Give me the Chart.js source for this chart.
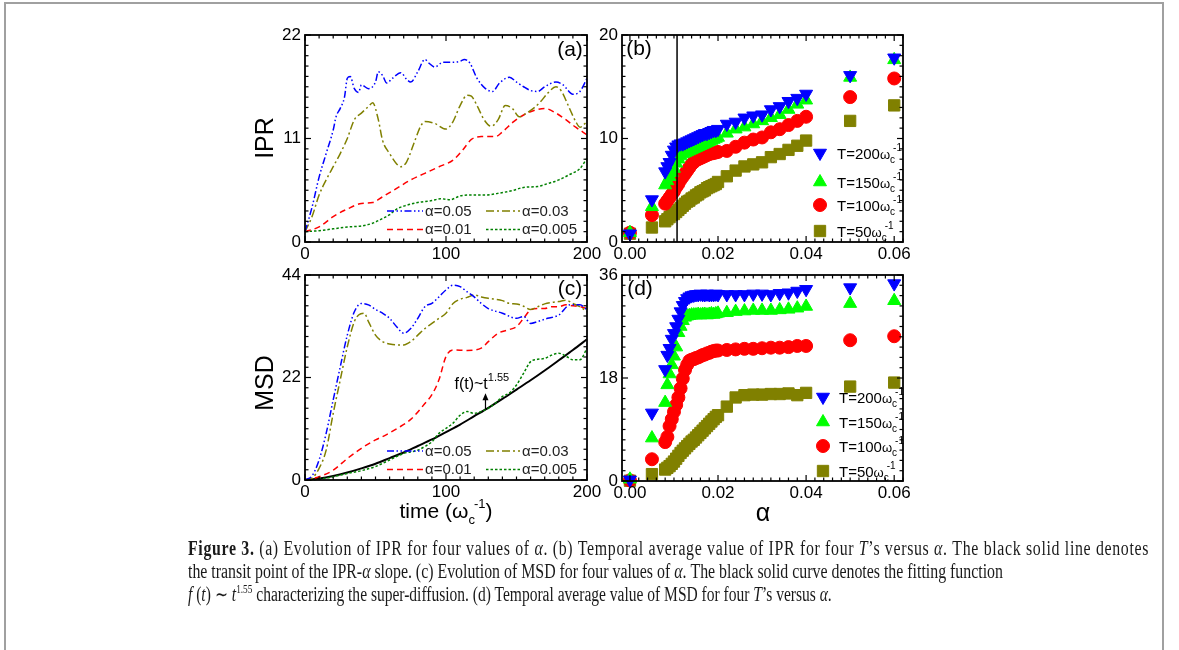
<!DOCTYPE html>
<html><head><meta charset="utf-8">
<script src="https://cdn.jsdelivr.net/npm/chart.js@4.4.1/dist/chart.umd.min.js"></script>
<style>
html,body{margin:0;padding:0;background:#fff;}
body{width:1179px;height:650px;overflow:hidden;position:relative;}
canvas.layer{position:absolute;left:0;top:0;}
#frame{position:absolute;left:4px;top:2px;width:1160px;height:720px;border:2px solid #a0a0a0;box-sizing:border-box;}
.cap{position:absolute;left:188px;font-family:"Liberation Serif","Times New Roman",serif;font-size:20px;line-height:20px;white-space:nowrap;transform-origin:0 0;color:#1a1a1a;}
.cap sup{font-size:12px;line-height:0;vertical-align:8px}
</style></head><body>
<div id="frame"></div>
<canvas class="layer" id="cA" width="1179" height="650"></canvas>
<canvas class="layer" id="cB" width="1179" height="650"></canvas>
<canvas class="layer" id="cC" width="1179" height="650"></canvas>
<canvas class="layer" id="cD" width="1179" height="650"></canvas>
<div class="cap" id="cap1" style="top:538px"><b>Figure 3.</b> (a) Evolution of IPR for four values of <i>α</i>. (b) Temporal average value of IPR for four <i>T</i>’s versus <i>α</i>. The black solid line denotes</div>
<div class="cap" id="cap2" style="top:561px">the transit point of the IPR-<i>α</i> slope. (c) Evolution of MSD for four values of <i>α</i>. The black solid curve denotes the fitting function</div>
<div class="cap" id="cap3" style="top:584px"><i>f</i> (<i>t</i>) ∼ <i>t</i><sup>1.55</sup> characterizing the super-diffusion. (d) Temporal average value of MSD for four <i>T</i>’s versus <i>α</i>.</div>
<script>
// ---------------- DATA ----------------
// Panel (a): IPR vs time
const tA05 = [0,5,10,15,20,22,25,28,30,32,35,38,40,45,50,52,55,58,62,68,72,75,80,85,88,92,98,105,110,113,117,122,128,133,138,145,150,155,160,165,170,178,183,190,195,200];
const iprA05 = [1.1,3.7,6.9,9.4,11.9,13.3,14.2,15.4,17.4,17.6,16.3,15.9,16.7,16.3,17.0,18.1,17.7,16.9,17.4,18.0,17.3,17.0,18.1,19.4,19.0,18.6,19.1,19.1,19.2,19.4,19.0,17.4,16.3,16.0,16.9,17.5,17.0,16.5,16.1,16.0,16.5,17.0,16.7,15.7,16.0,17.4];
const tA03 = [0,5,10,15,20,25,30,35,40,45,48,52,55,60,65,68,72,78,82,85,92,100,105,110,115,118,122,127,132,137,142,147,152,157,162,167,172,178,182,187,192,195,200];
const iprA03 = [1.1,2.7,5.0,6.6,8.0,9.4,11.0,13.0,13.7,14.4,14.8,13.0,10.8,9.4,8.3,8.0,8.5,10.8,12.3,12.8,12.6,12.0,12.8,14.5,15.6,15.5,14.5,13.0,12.3,13.0,14.5,14.2,13.3,13.7,14.2,14.9,15.8,16.5,16.0,14.4,12.8,12.2,12.8];
const tA01 = [0,10,20,30,40,48,55,65,75,85,95,105,112,118,125,135,140,148,155,163,170,178,185,192,200];
const iprA01 = [1.1,1.6,2.7,3.5,4.1,4.2,4.8,5.7,6.6,7.3,8.0,8.7,9.8,10.9,11.2,11.2,11.7,12.8,13.5,14.0,14.2,13.7,13.0,12.2,11.4];
const tA005 = [0,10,20,30,40,48,55,60,65,72,80,90,96,103,110,118,128,138,148,155,165,172,180,188,195,200];
const iprA005 = [1.1,1.2,1.4,1.6,1.7,2.0,2.5,2.9,3.5,3.9,4.2,4.4,4.6,4.5,4.9,5.0,5.0,5.2,5.5,5.8,5.9,6.2,6.6,7.2,7.8,8.9];

// Panel (c): MSD vs time
const tC05 = [0,5,10,15,20,25,30,35,40,45,50,55,60,65,70,75,80,85,90,95,100,105,110,115,120,125,130,140,150,155,160,165,172,180,188,195,200];
const msdC05 = [0,0.9,4.3,10.0,17.2,24.3,31.1,36.1,37.9,37.6,36.6,35.8,34.7,32.9,31.5,32.5,34.7,37.2,37.9,39.3,40.8,41.8,41.5,40.4,39.3,37.9,36.8,35.8,34.7,35.1,33.6,34.0,34.7,35.4,37.6,37.6,36.5];
const tC03 = [0,5,10,15,20,25,30,35,38,42,45,50,55,60,65,70,75,80,85,90,95,100,105,110,115,120,125,130,135,140,145,150,155,160,165,170,175,180,185,190,195,200];
const msdC03 = [0,0.4,2.5,6.4,14.3,21.5,28.6,34.0,35.4,35.8,34.0,31.1,29.7,29.2,29.0,29.0,29.7,31.1,32.5,33.6,34.7,35.8,37.9,38.8,39.2,39.7,39.3,39.0,38.8,38.5,37.9,37.8,37.3,36.6,37.2,37.8,38.1,38.3,38.6,37.9,37.2,36.1];
const tC01 = [0,10,20,30,40,50,55,65,75,85,90,95,100,105,115,125,130,137,145,150,155,160,165,170,175,180,185,190,195,200];
const msdC01 = [0,0.7,2.1,4.6,6.8,8.6,9.3,11.0,13.0,16.4,18.3,21.5,26.5,27.9,27.8,28.3,29.7,31.5,32.3,32.9,34.7,36.5,36.8,36.8,37.2,37.2,37.6,37.4,37.2,36.8];
const tC005 = [0,10,20,30,40,50,60,70,80,85,90,95,100,105,110,115,120,125,130,135,140,145,150,155,160,165,170,175,180,185,190,195,200];
const msdC005 = [0,0.15,0.7,1.4,2.0,2.9,4.3,5.7,6.4,7.2,8.2,10.0,11.1,12.2,13.9,14.7,14.3,14.7,15.4,16.5,17.9,18.7,20.4,22.9,25.4,25.9,26.1,26.8,27.2,26.6,25.8,25.8,28.3];
const tFit = [0,10,20,30,40,50,60,70,80,90,100,110,120,130,140,150,160,170,180,190,200];
const msdFit = [0,0.3,0.85,1.6,2.5,3.5,4.7,5.9,7.3,8.7,10.3,11.9,13.7,15.5,17.4,19.4,21.4,23.5,25.7,27.9,30.2];

// Panels (b),(d): averages vs alpha
const alpha = [0,0.005,0.008,0.0085,0.009,0.0095,0.01,0.0105,0.011,0.0115,0.012,0.0125,0.013,0.0135,0.014,0.0145,0.015,0.0155,0.016,0.0165,0.017,0.0175,0.018,0.0185,0.019,0.0195,0.02,0.022,0.024,0.026,0.028,0.03,0.032,0.034,0.036,0.038,0.04,0.05,0.06];
const ipr200 = [0.8,4.1,6.8,7.3,7.7,8.4,8.9,9.2,9.4,9.5,9.5,9.6,9.7,9.8,9.9,10.0,10.1,10.2,10.3,10.4,10.5,10.5,10.6,10.7,10.8,10.8,10.9,11.4,11.6,12.0,12.2,12.3,12.8,13.1,13.6,13.9,14.3,16.1,17.8];
const ipr150 = [0.9,3.4,5.5,5.9,6.3,6.7,7.1,7.6,8.0,8.3,8.5,8.6,8.7,8.8,8.9,9.0,9.1,9.2,9.3,9.4,9.5,9.6,9.7,9.8,9.9,10.0,10.1,10.5,10.9,11.1,11.4,11.7,12.0,12.3,12.8,13.3,13.7,15.9,17.6];
const ipr100 = [0.9,2.6,3.7,4.0,4.3,4.6,4.9,5.3,5.6,6.0,6.3,6.6,6.9,7.2,7.5,7.7,7.9,8.0,8.1,8.2,8.3,8.4,8.5,8.55,8.6,8.65,8.7,8.8,9.2,9.6,9.9,10.1,10.6,10.9,11.3,11.7,12.1,14.0,15.8];
const ipr50 = [0.8,1.4,2.0,2.2,2.4,2.6,2.7,2.9,3.1,3.3,3.5,3.7,3.9,4.0,4.2,4.3,4.5,4.6,4.8,4.9,5.0,5.2,5.3,5.4,5.5,5.6,5.8,6.35,6.9,7.3,7.5,7.7,8.2,8.5,8.9,9.3,9.8,11.7,13.2];
const msd200 = [0.2,11.9,19.5,22.0,23.2,24.8,25.8,27.0,28.3,29.6,30.7,31.4,31.9,32.2,32.4,32.5,32.6,32.6,32.7,32.6,32.6,32.7,32.6,32.6,32.6,32.7,32.6,32.6,32.6,32.6,32.7,32.7,32.6,32.8,32.9,33.2,33.5,33.8,34.5];
const msd150 = [0.3,7.5,13.7,16.8,18.7,20.3,21.8,23.4,25.9,27.0,28.0,28.6,28.8,28.9,29.0,29.0,29.0,29.1,29.0,29.1,29.1,29.0,29.1,29.2,29.1,29.2,29.3,29.4,29.6,29.7,29.8,29.8,29.8,29.9,30.0,30.2,30.5,31.0,31.5];
const msd100 = [0.1,3.8,6.8,7.7,9.6,10.8,12.1,13.3,14.6,16.2,17.9,19.4,20.3,21.0,21.2,21.3,21.5,21.6,21.8,22.0,22.1,22.3,22.4,22.6,22.7,22.8,22.8,22.9,23.0,23.1,23.1,23.2,23.3,23.3,23.4,23.6,23.6,24.6,25.3];
const msd50 = [0.05,1.2,2.0,2.3,2.6,3.0,3.4,3.9,4.4,4.9,5.3,5.7,6.1,6.5,6.9,7.2,7.6,8.0,8.4,8.8,9.2,9.6,10.0,10.4,10.8,11.2,11.5,13.0,14.6,15.0,15.1,15.1,15.2,15.2,15.3,15.0,15.4,16.5,17.2];
const transitAlpha = 0.0107;

// Tick labels
const timeTicks = [0,100,200];
const timeTickLabels = ['0','100','200'];
const alphaTicks = [0,0.02,0.04,0.06];
const alphaTickLabels = ['0.00','0.02','0.04','0.06'];
const iprATicks = [0,11,22];   const iprATickLabels = ['0','11','22'];
const iprBTicks = [0,10,20];   const iprBTickLabels = ['0','10','20'];
const msdCTicks = [0,22,44];   const msdCTickLabels = ['0','22','44'];
const msdDTicks = [0,18,36];   const msdDTickLabels = ['0','18','36'];
const lineLabels = ['α=0.05','α=0.03','α=0.01','α=0.005'];
const tLabels = ['200','150','100','50'];

// ---------------- STYLE ----------------
const FONT = '"Liberation Sans", Arial, sans-serif';
const BLUE = '#0000ff', OLIVE = '#808000', RED = '#ff0000', DKGREEN = '#008000', GREEN = '#00ff00';
const DASH05 = [7,2.5,1.5,2.5,1.5,2.5], DASH03 = [8,3,2,3], DASH01 = [6,4], DASH005 = [2.5,2];
const MK = {
  '200': {style:'triangle', rot:180, r:7.5, color:BLUE},
  '150': {style:'triangle', rot:0, r:7.5, color:GREEN},
  '100': {style:'circle', rot:0, r:6.5, color:RED},
  '50':  {style:'rect', rot:0, r:8, color:OLIVE}
};

const pts = (xs, ys) => xs.map((x, i) => ({x, y: ys[i]}));

function range(min, max, step) {
  const out = [];
  const i0 = Math.ceil(min / step - 1e-6), i1 = Math.floor(max / step + 1e-6);
  for (let i = i0; i <= i1; i++) out.push(+(i * step).toFixed(8));
  return out;
}

function drawMarker(ctx, m, x, y) {
  ctx.save();
  ctx.fillStyle = m.color; ctx.strokeStyle = m.color; ctx.lineWidth = 1;
  ctx.beginPath();
  if (m.style === 'circle') {
    ctx.arc(x, y, m.r, 0, Math.PI * 2);
  } else if (m.style === 'triangle') {
    let rad = m.rot * Math.PI / 180;
    ctx.moveTo(x + Math.sin(rad) * m.r, y - Math.cos(rad) * m.r);
    rad += 2 * Math.PI / 3;
    ctx.lineTo(x + Math.sin(rad) * m.r, y - Math.cos(rad) * m.r);
    rad += 2 * Math.PI / 3;
    ctx.lineTo(x + Math.sin(rad) * m.r, y - Math.cos(rad) * m.r);
    ctx.closePath();
  } else {
    const s = m.r * Math.SQRT1_2;
    ctx.rect(x - s, y - s, 2 * s, 2 * s);
  }
  ctx.fill(); ctx.stroke();
  ctx.restore();
}

// rich text: parts {t, size, dy, back}
function drawRich(ctx, x, y, parts, align) {
  ctx.save();
  ctx.textBaseline = 'alphabetic'; ctx.textAlign = 'left';
  let w = 0, cx = 0;
  const layout = parts.map(p => {
    ctx.font = p.size + 'px ' + FONT;
    const pw = ctx.measureText(p.t).width;
    const pos = p.back ? cx - p.back : cx;
    const item = {p, x: pos};
    cx = pos + pw;
    w = Math.max(w, cx);
    return item;
  });
  const x0 = align === 'center' ? x - w / 2 : x;
  layout.forEach(it => {
    ctx.font = it.p.size + 'px ' + FONT;
    ctx.fillText(it.p.t, x0 + it.x, y + (it.p.dy || 0));
  });
  ctx.restore();
}

function omegaLabel(T) {
  return [{t:'T=' + T, size:15}, {t:'ω', size:13}, {t:'c', size:10, dy:4}, {t:'-1', size:10, dy:-8, back:2}];
}

function lineSample(ctx, x1, x2, y, color, dash) {
  ctx.save();
  ctx.strokeStyle = color; ctx.lineWidth = 1.5; ctx.setLineDash(dash);
  ctx.beginPath(); ctx.moveTo(x1, y); ctx.lineTo(x2, y); ctx.stroke();
  ctx.restore();
}

function framePlugin(p) {
  return {
    id: 'frame' + p.name,
    afterDatasetsDraw(chart) {
      const ctx = chart.ctx, a = chart.chartArea, xs = chart.scales.x, ys = chart.scales.y;
      ctx.save();
      ctx.strokeStyle = '#000'; ctx.lineWidth = 1.2; ctx.setLineDash([]);
      const seg = (x1, y1, x2, y2) => { ctx.beginPath(); ctx.moveTo(x1, y1); ctx.lineTo(x2, y2); ctx.stroke(); };
      const isMaj = (v, arr, step) => arr.some(m => Math.abs(m - v) < step * 0.01);
      range(p.x.min, p.x.max, p.x.minor).forEach(v => {
        const px = xs.getPixelForValue(v), L = isMaj(v, p.x.major, p.x.minor) ? 6 : 3.5;
        seg(px, a.bottom, px, a.bottom - L); seg(px, a.top, px, a.top + L);
      });
      range(p.y.min, p.y.max, p.y.minor).forEach(v => {
        const py = ys.getPixelForValue(v), L = isMaj(v, p.y.major, p.y.minor) ? 6 : 3.5;
        seg(a.left, py, a.left + L, py); seg(a.right, py, a.right - L, py);
      });
      ctx.lineWidth = 1.8;
      ctx.strokeRect(a.left, a.top, a.right - a.left, a.bottom - a.top);
      ctx.fillStyle = '#000';
      ctx.font = '17px ' + FONT;
      ctx.textAlign = 'center'; ctx.textBaseline = 'top';
      p.x.major.forEach((v, i) => ctx.fillText(p.x.labels[i], xs.getPixelForValue(v), a.bottom + 4));
      ctx.textAlign = 'right'; ctx.textBaseline = 'middle';
      p.y.major.forEach((v, i) => ctx.fillText(p.y.labels[i], a.left - 4, ys.getPixelForValue(v)));
      if (p.extra) p.extra(ctx, a, xs, ys);
      ctx.restore();
    }
  };
}

function makeChart(id, area, datasets, p) {
  return new Chart(document.getElementById(id), {
    type: 'scatter',
    data: { datasets },
    options: {
      responsive: false, animation: false, devicePixelRatio: 1,
      layout: { padding: { left: area.l, top: area.t, right: 1179 - area.r, bottom: 650 - area.b } },
      scales: {
        x: { type: 'linear', display: false, min: p.x.min, max: p.x.max },
        y: { type: 'linear', display: false, min: p.y.min, max: p.y.max }
      },
      plugins: { legend: { display: false }, tooltip: { enabled: false } },
      events: []
    },
    plugins: [framePlugin(p)]
  });
}

function lineDs(xs, ys, color, dash, width) {
  return { data: pts(xs, ys), showLine: true, borderColor: color, backgroundColor: color, borderWidth: width || 1.5,
    borderDash: dash, pointRadius: 0, cubicInterpolationMode: 'monotone', clip: 2 };
}
function markDs(xs, ys, key) {
  const m = MK[key];
  return { data: pts(xs, ys), showLine: false, pointStyle: m.style, rotation: m.rot, pointRadius: m.r,
    backgroundColor: m.color, borderColor: m.color, borderWidth: 1, clip: false };
}

function lineLegend(ctx, rowY) {
  const styles = [[BLUE, DASH05], [OLIVE, DASH03], [RED, DASH01], [DKGREEN, DASH005]];
  const cols = [{x1:387, x2:423, tx:425}, {x1:486, x2:520, tx:522}];
  ctx.save();
  ctx.font = '15px ' + FONT; ctx.fillStyle = '#222'; ctx.textAlign = 'left'; ctx.textBaseline = 'middle';
  [0,1,2,3].forEach(i => {
    const c = cols[i % 2], y = rowY[Math.floor(i / 2)];
    lineSample(ctx, c.x1, c.x2, y, styles[i][0], styles[i][1]);
    ctx.fillText(lineLabels[i], c.tx, y + 0.5);
  });
  ctx.restore();
}

function markLegend(ctx, mx, tx, rowY) {
  tLabels.forEach((T, i) => {
    drawMarker(ctx, MK[T], mx, rowY[i]);
    ctx.fillStyle = '#000';
    drawRich(ctx, tx, rowY[i] + 6, omegaLabel(T));
  });
}

function panelLabel(ctx, txt, x, y) {
  ctx.save(); ctx.font = '21px ' + FONT; ctx.fillStyle = '#000';
  ctx.textAlign = 'center'; ctx.textBaseline = 'middle'; ctx.fillText(txt, x, y); ctx.restore();
}
function yTitle(ctx, txt, x, y) {
  ctx.save(); ctx.translate(x, y); ctx.rotate(-Math.PI / 2);
  ctx.font = '25px ' + FONT; ctx.fillStyle = '#000'; ctx.textAlign = 'center'; ctx.textBaseline = 'middle';
  ctx.fillText(txt, 0, 0); ctx.restore();
}

// ---------------- CHARTS ----------------
const xTime = {min:0, max:200, minor:10, major:timeTicks, labels:timeTickLabels};
const xAlpha = {min:-0.0018, max:0.062, minor:0.002, major:alphaTicks, labels:alphaTickLabels};

function build() {
  makeChart('cA', {l:305, t:35, r:587, b:242}, [
    lineDs(tA05, iprA05, BLUE, DASH05),
    lineDs(tA03, iprA03, OLIVE, DASH03),
    lineDs(tA01, iprA01, RED, DASH01),
    lineDs(tA005, iprA005, DKGREEN, DASH005)
  ], {name:'A', x:xTime, y:{min:0, max:22, minor:1.1, major:iprATicks, labels:iprATickLabels},
    extra(ctx) { panelLabel(ctx, '(a)', 570, 50); lineLegend(ctx, [211, 229.5]); yTitle(ctx, 'IPR', 266, 138); }});

  makeChart('cB', {l:622, t:35, r:903, b:242}, [
    { data: [{x:transitAlpha, y:0}, {x:transitAlpha, y:20}], showLine:true, borderColor:'#000', borderWidth:1.5, pointRadius:0 },
    markDs(alpha, ipr200, '200'),
    markDs(alpha, ipr150, '150'),
    markDs(alpha, ipr100, '100'),
    markDs(alpha, ipr50, '50')
  ], {name:'B', x:xAlpha, y:{min:0, max:20, minor:1, major:iprBTicks, labels:iprBTickLabels},
    extra(ctx) { panelLabel(ctx, '(b)', 639, 49); markLegend(ctx, 820, 837, [153, 182, 205, 231]); }});

  makeChart('cC', {l:305, t:275, r:587, b:480}, [
    lineDs(tC05, msdC05, BLUE, DASH05),
    lineDs(tC03, msdC03, OLIVE, DASH03),
    lineDs(tC01, msdC01, RED, DASH01),
    lineDs(tC005, msdC005, DKGREEN, DASH005),
    lineDs(tFit, msdFit, '#000', [], 2)
  ], {name:'C', x:xTime, y:{min:0, max:44, minor:2.2, major:msdCTicks, labels:msdCTickLabels},
    extra(ctx, a, xs, ys) {
      panelLabel(ctx, '(c)', 570, 289);
      lineLegend(ctx, [451, 469.5]);
      yTitle(ctx, 'MSD', 266, 383);
      ctx.fillStyle = '#000';
      drawRich(ctx, 446, 518, [{t:'time (ω', size:21}, {t:'c', size:13, dy:6}, {t:'-1', size:13, dy:-10, back:1}, {t:')', size:21}], 'center');
      // annotation f(t)~t^1.55 with arrow
      const ax = xs.getPixelForValue(128), ay0 = ys.getPixelForValue(15.2), ay1 = ys.getPixelForValue(18.6);
      ctx.strokeStyle = '#000'; ctx.lineWidth = 1.2; ctx.setLineDash([]);
      ctx.beginPath(); ctx.moveTo(ax, ay0); ctx.lineTo(ax, ay1 + 3); ctx.stroke();
      ctx.beginPath(); ctx.moveTo(ax, ay1); ctx.lineTo(ax - 3, ay1 + 7); ctx.lineTo(ax + 3, ay1 + 7); ctx.closePath(); ctx.fill();
      drawRich(ctx, xs.getPixelForValue(106), ys.getPixelForValue(19.6), [{t:'f(t)~t', size:16}, {t:'1.55', size:11, dy:-8}]);
    }});

  makeChart('cD', {l:622, t:275, r:903, b:481}, [
    markDs(alpha, msd200, '200'),
    markDs(alpha, msd150, '150'),
    markDs(alpha, msd100, '100'),
    markDs(alpha, msd50, '50')
  ], {name:'D', x:xAlpha, y:{min:0, max:36, minor:1.8, major:msdDTicks, labels:msdDTickLabels},
    extra(ctx) {
      panelLabel(ctx, '(d)', 640, 289);
      markLegend(ctx, 823, 839, [397, 422, 446, 471]);
      ctx.save(); ctx.font = '25px ' + FONT; ctx.fillStyle = '#000'; ctx.textAlign = 'center'; ctx.textBaseline = 'alphabetic';
      ctx.fillText('α', 763, 521); ctx.restore();
    }});

  // caption: common horizontal scale from line 2; line 1 filled to its width by letter spacing
  const c1 = document.getElementById('cap1'), c2 = document.getElementById('cap2'), c3 = document.getElementById('cap3');
  const s = 815 / c2.scrollWidth;
  c1.style.transform = c2.style.transform = 'scaleX(' + s + ')';
  c3.style.transform = 'scaleX(' + (644 / c3.scrollWidth) + ')';
  const n = c1.textContent.length;
  const extra = 961 / s - c1.scrollWidth;
  if (extra > 0) c1.style.letterSpacing = (extra / n) + 'px';
}

if (document.fonts && document.fonts.ready) { document.fonts.ready.then(build); } else { build(); }
</script>
</body></html>
